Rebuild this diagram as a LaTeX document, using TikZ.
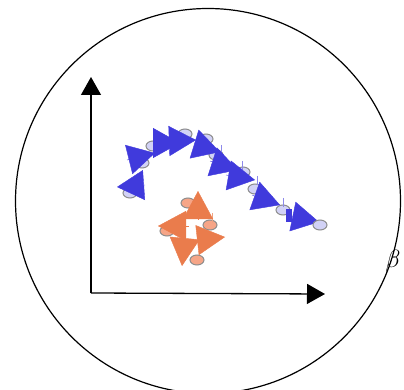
\documentclass[tikz,border=0pt]{standalone}
\usepackage{amsmath}
\usetikzlibrary{arrows.meta, shapes.geometric}
\definecolor{trajblue}{RGB}{64,58,220}
\definecolor{ptblue}{RGB}{210,210,246}
\definecolor{trajorange}{RGB}{234,124,76}
\definecolor{ptorange}{RGB}{246,165,135}
\definecolor{ptline}{RGB}{140,140,140}
\tikzset{
  axis/.style={-{Triangle[length=18pt,width=20pt]}, line width=1.3pt},
  bpt/.style={ellipse, draw=ptline, fill=ptblue, line width=1pt,
              minimum width=14pt, minimum height=10pt, inner sep=0pt},
  opt/.style={bpt, fill=ptorange},
  barr/.style={-{Triangle[length=27pt,width=30pt]}, trajblue, line width=0.4pt},
  oarr/.style={-{Triangle[length=28pt,width=30pt]}, trajorange, line width=0.4pt},
  btick/.style={trajblue!60, line width=0.6pt},
  otick/.style={trajorange!70, line width=0.6pt}
}
\begin{document}
\begin{tikzpicture}[x=1pt, y=-1pt]
  \useasboundingbox (0,0) rectangle (404,390);
  \draw[line width=1.2pt] (208,201) circle[radius=192.5pt];

  % axes
  \coordinate (orig) at (91,293);
  \coordinate (ytop) at (91,77);
  \coordinate (xend) at (325,294);
  \draw[axis] (orig) -- (ytop);
  \draw[axis] (orig) -- (xend);
  \node[font=\fontsize{29}{34}\selectfont, inner sep=0pt] (beta) at (393,261) {$\beta$};

  % blue trajectory
  \foreach \n/\p in {1/{130,193}, 2/{142,163}, 3/{153,146}, 4/{185,134}, 5/{206,139},
                     6/{216,155}, 7/{243,172}, 8/{255,189}, 9/{283,210}}
    \node[bpt] (b\n) at (\p) {};
  \foreach \x/\y in {221/145, 242/161, 257/176, 283/198}
    \draw[btick] (\x,\y) -- (\x,\y+9);
  \fill[trajblue] (286,209) rectangle (292,222);
  \foreach \a/\b in {{145,185}/{117,187}, {127,160}/{155,153}, {153,143}/{180,143},
                     {169,141}/{196,140}, {194,144}/{220,152}, {210,161}/{238,170},
                     {226,175}/{255,180}, {252,195}/{280,205}, {290,216}/{319,222}}
    \draw[barr] (\a) -- (\b);
  \node[bpt] (b10) at (320,225) {};

  % orange loop
  \foreach \n/\p in {1/{188,203}, 2/{210,225}, 3/{197,260}, 4/{167,231}}
    \node[opt] (o\n) at (\p) {};
  \draw[otick] (212,213) -- (212,223);
  \foreach \a/\b in {{198,219}/{198,191}, {189,226}/{158,226},
                     {185,235}/{182,266}, {198,240}/{225,237}}
    \draw[oarr] (\a) -- (\b);
\end{tikzpicture}
\end{document}
